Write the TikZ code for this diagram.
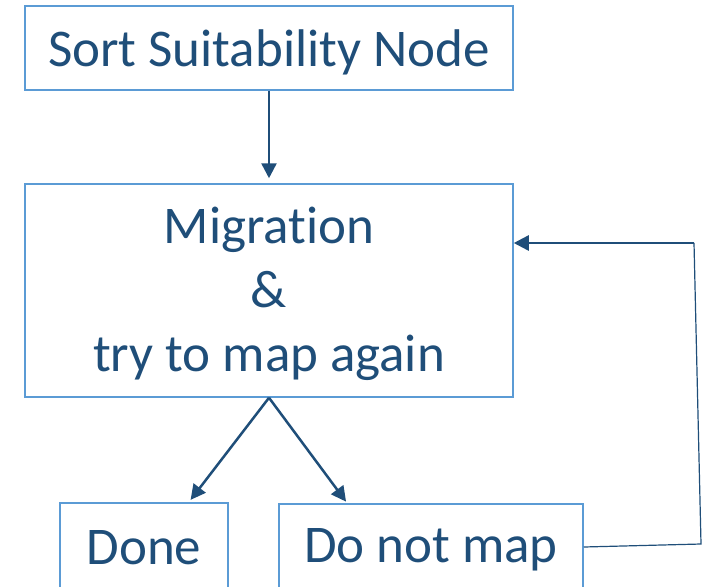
\documentclass[tikz,border=0pt]{standalone}
\usepackage{fontspec}
\setmainfont{Carlito}[Ligatures={NoCommon,NoContextual,NoRequired},RawFeature={-liga;-clig;-calt}]
\usetikzlibrary{arrows.meta,positioning,calc}
\definecolor{boxblue}{RGB}{91,155,213}
\definecolor{inkblue}{RGB}{31,78,121}

\begin{document}
\begin{tikzpicture}[
    x=1pt, y=-1pt,
    box/.style={rectangle, draw=boxblue, line width=1.5pt, text=inkblue, align=center, inner sep=0pt,
      font=\fontsize{53}{64}\selectfont},
    flow/.style={draw=inkblue, line width=2.5pt, -{Triangle[length=15pt,width=15pt]}},
    back/.style={draw=inkblue, line width=1.2pt}
  ]
    \useasboundingbox (0,0) rectangle (711,586);
    \clip (0,0) rectangle (711,586);

    \node[box, minimum width=488pt, minimum height=84pt] (sort) at (269,48)
      {\raisebox{-4pt}[\height][\depth]{Sort Suitability Node}};
    \node[box, minimum width=488pt, minimum height=213pt] (migrate) at (269,290.5)
      {\raisebox{-4pt}[\height][\depth]{\begin{tabular}{@{}c@{}}Migrat\kern0pt ion\\\&\\try to map again\end{tabular}}};
    \node[box, minimum width=168pt, minimum height=88pt] (done) at (144,547) {\raisebox{-1pt}[\height][\depth]{Done}};
    \node[box, minimum width=304pt, minimum height=86pt] (nomap) at (431,547) {\raisebox{-3pt}[\height][\depth]{Do not map}};

    \coordinate (loopbot) at (701,544);
    \coordinate (looptop) at (694,243);

    \draw[flow, shorten >=5pt] (sort.south) -- (migrate.north);
    \draw[flow, shorten >=3pt] (migrate.south) -- ([xshift=-40pt]done.north east);
    \draw[flow, shorten >=2pt] (migrate.south) -- ([xshift=69pt]nomap.north west);

    \draw[back] (nomap.east) -- (loopbot) -- (looptop);
    \draw[flow] (looptop) -- (migrate.east |- looptop);
  \end{tikzpicture}
\end{document}
